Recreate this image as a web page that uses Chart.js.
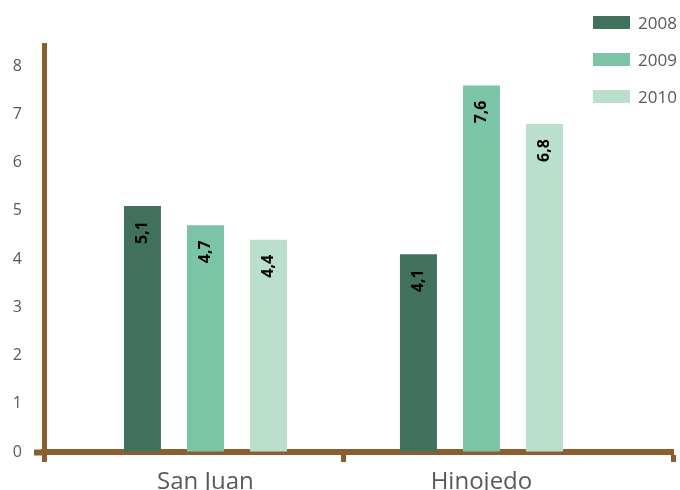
<!DOCTYPE html>
<html lang="es">
<head>
    <meta charset="UTF-8">
    <title>San Juan / Hinojedo 2008-2010</title>
    <script src="https://cdn.jsdelivr.net/npm/chart.js"></script>
    <style>
        html, body { margin: 0; padding: 0; background: #fff; }
        #wrap { position: relative; width: 680px; height: 490px; }
        #leyenda { position: absolute; left: 593px; top: 4px; font-family: 'Open Sans', sans-serif; font-size: 17px; color: #595959; }
        #leyenda .item { display: flex; align-items: center; height: 37px; }
        #leyenda .caja { width: 37px; height: 13px; margin-right: 8px; }
    </style>
</head>
<body>
    <div id="wrap">
        <canvas id="grafico"></canvas>
        <div id="leyenda"></div>
    </div>

    <script>
        const categorias = ['San Juan', 'Hinojedo'];
        const anios = ['2008', '2009', '2010'];
        const valores2008 = [5.1, 4.1];
        const valores2009 = [4.7, 7.6];
        const valores2010 = [4.4, 6.8];
        const ticksY = [0, 1, 2, 3, 4, 5, 6, 7, 8];

        const colores = ['#41705d', '#7bc4a6', '#bbdfcd'];
        const marron = '#8b5e30';
        const gris = '#595959';

        Chart.defaults.font.family = "'Open Sans', sans-serif";

        const series = [valores2008, valores2009, valores2010];
        const datasets = series.map((vals, i) => ({
            label: anios[i],
            data: vals.map((v, j) => ({ x: j, y: v })),
            backgroundColor: colores[i],
            borderWidth: 0,
            categoryPercentage: 1.37,
            barPercentage: 0.587
        }));

        // etiquetas giradas dentro de cada barra
        const etiquetasBarras = {
            id: 'etiquetasBarras',
            afterDatasetsDraw(chart) {
                const ctx = chart.ctx;
                chart.data.datasets.forEach((ds, i) => {
                    chart.getDatasetMeta(i).data.forEach((bar, j) => {
                        const texto = String(ds.data[j].y).replace('.', ',');
                        ctx.save();
                        ctx.translate(bar.x, bar.y + 15);
                        ctx.rotate(-Math.PI / 2);
                        ctx.font = "bold 16px 'Open Sans', sans-serif";
                        ctx.fillStyle = '#000';
                        ctx.textAlign = 'right';
                        ctx.textBaseline = 'middle';
                        ctx.fillText(texto, 0, 0);
                        ctx.restore();
                    });
                });
            }
        };

        const xMin = -0.585, xMax = 1.694;

        const chart = new Chart(document.getElementById('grafico'), {
            type: 'bar',
            data: { datasets: datasets },
            options: {
                responsive: true,
                maintainAspectRatio: false,
                animation: false,
                layout: { padding: { top: 45, right: 7, left: 0, bottom: 0 } },
                plugins: {
                    legend: { display: false },
                    tooltip: { enabled: false }
                },
                scales: {
                    x: {
                        type: 'linear',
                        offset: false,
                        min: xMin,
                        max: xMax,
                        afterBuildTicks: s => { s.ticks = [xMin, 0, 0.5, 1, xMax].map(v => ({ value: v })); },
                        afterFit: s => { s.height = 38; },
                        grid: {
                            offset: false,
                            drawOnChartArea: false,
                            tickLength: 10,
                            tickWidth: 5,
                            tickColor: c => (c.tick && Number.isInteger(c.tick.value)) ? 'rgba(0,0,0,0)' : marron
                        },
                        border: { color: marron, width: 6 },
                        ticks: {
                            padding: 6,
                            color: gris,
                            font: { size: 24 },
                            maxRotation: 0,
                            autoSkip: false,
                            callback: v => Number.isInteger(v) ? categorias[v] : ''
                        }
                    },
                    y: {
                        min: 0,
                        max: 8.44,
                        afterBuildTicks: s => { s.ticks = ticksY.map(v => ({ value: v })); },
                        afterFit: s => { s.width = 44; },
                        grid: {
                            drawOnChartArea: false,
                            tickLength: 10,
                            tickWidth: 6,
                            tickColor: c => (c.tick && c.tick.value === 0) ? marron : 'rgba(0,0,0,0)'
                        },
                        border: { color: marron, width: 5 },
                        ticks: {
                            padding: 12,
                            color: gris,
                            font: { size: 16 },
                            callback: v => String(v)
                        }
                    }
                }
            },
            plugins: [etiquetasBarras]
        });

        // leyenda en HTML a partir de los datasets
        const leyenda = document.getElementById('leyenda');
        chart.data.datasets.forEach(ds => {
            const item = document.createElement('div');
            item.className = 'item';
            item.innerHTML = '<span class="caja" style="background:' + ds.backgroundColor + '"></span>' + ds.label;
            leyenda.appendChild(item);
        });
    </script>
</body>
</html>
